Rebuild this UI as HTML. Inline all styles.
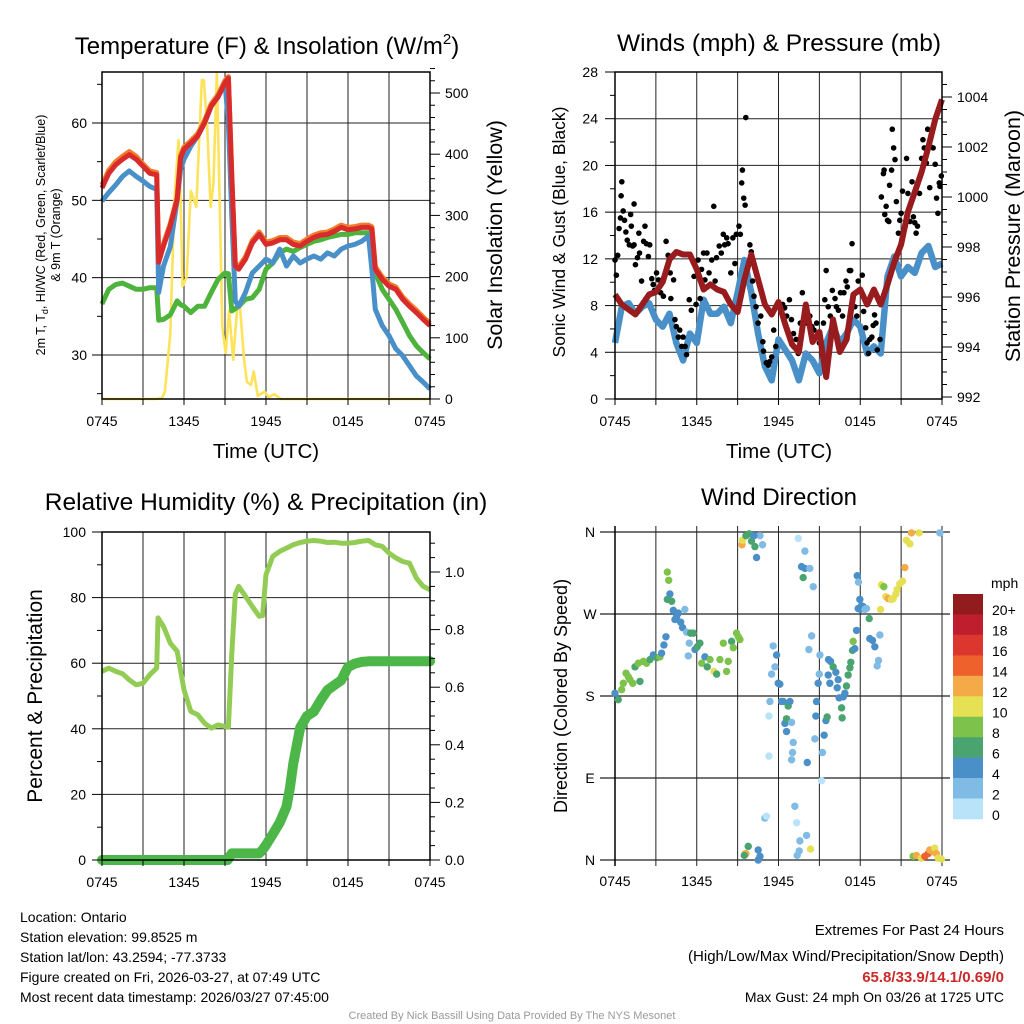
<!DOCTYPE html>
<html><head><meta charset="utf-8">
<style>
html,body{margin:0;padding:0;background:#fff;}
svg{display:block;font-family:"Liberation Sans",Arial,sans-serif;}
</style></head>
<body>
<svg id="c" width="1024" height="1024" viewBox="0 0 1024 1024" xmlns="http://www.w3.org/2000/svg"></svg>
<script>
// ---- data (hours since 0745 UTC) ----
const tHalf = [0,0.5,1,1.5,2,2.5,3,3.5,4,4.5,5,5.5,6,6.5,7,7.5,8,8.5,9,9.5,10,10.5,11,11.5,12,12.5,13,13.5,14,14.5,15,15.5,16,16.5,17,17.5,18,18.5,19,19.5,20,20.5,21,21.5,22,22.5,23,23.5,24];
const tTemp = [0,0.5,1,1.5,2,2.5,3,3.5,4,4.15,4.5,5,5.5,5.75,6,6.5,7,7.5,8,8.5,9,9.25,9.5,9.75,10,10.5,11,11.5,12,12.5,13,13.5,14,14.5,15,15.5,16,16.5,17,17.5,18,18.5,19,19.5,19.75,20,20.5,21,21.5,22,22.5,23,23.5,24];
const tempRed = [51.6,53.5,54.6,55.3,55.9,55.3,54.4,53.5,53.3,42.0,44.1,46.7,50.1,55.5,56.6,57.4,58.3,60,62.2,63.4,65.2,65.8,53,41.5,41.1,42.4,44.5,45.6,44.3,44.5,44.9,44.9,44.3,44.1,44.7,45.2,45.5,45.6,46.0,46.5,46.2,46.3,46.5,46.5,46.3,41.1,39.8,38.9,38.5,37.2,36.3,35.5,34.6,33.8];
const temp9m = [52.0,53.9,55.0,55.7,56.3,55.7,54.7,53.8,53.6,42.3,44.4,47.0,50.4,55.8,56.9,57.7,58.6,60.3,62.5,63.7,65.5,66.0,53.3,41.8,41.4,42.7,44.8,45.9,44.6,44.8,45.2,45.2,44.6,44.4,45.0,45.5,45.8,45.9,46.3,46.8,46.5,46.6,46.8,46.8,46.6,41.4,40.1,39.2,38.8,37.5,36.6,35.8,34.9,34.1];
const tempBlue = [49.9,51,52.0,53.1,53.8,53.1,52.5,51.8,51.4,38.1,41.5,44,50.1,54,55.3,57,58.3,60,62.2,63.4,65.2,60,48,37,36.3,38.1,40.6,41.5,42.4,41.9,43.7,41.5,42.8,41.9,42.4,42.8,42.4,43.2,42.8,43.7,44.1,44.3,44.7,45.4,41,35.9,33.8,32.5,30.8,29.9,28.6,27.3,26.5,25.6];
const dewGreen = [36.6,38.5,39.1,39.3,38.9,38.5,38.5,38.7,38.7,34.5,34.6,35.2,37,36.5,36.3,35.5,36.3,36.3,38.1,39.8,40.6,40.5,35.7,36.0,36.3,37.2,37.4,38.5,41.1,41.9,43.2,43.7,43.4,43.9,44.3,44.7,44.9,45.2,45.4,45.6,45.6,45.8,45.8,45.8,45.8,40.6,38.5,37.2,35.9,34.2,32.5,31.2,30.3,29.5];
const solarT = [0,4,4.4,4.6,5,5.3,5.6,5.7,5.9,6.2,6.5,6.9,7.3,7.45,7.7,7.95,8.15,8.4,8.6,8.8,9.05,9.3,9.6,9.9,10.1,10.4,10.6,10.9,11.1,11.4,11.9,12.2,12.6,13.1,14,24];
const solarV = [0,0,2,12,107,325,423,374,184,200,340,314,521,521,445,314,350,532,336,118,75,145,64,151,151,64,28,23,45,5,12,3,8,0,0,0];
const windBlue = [4.8,7.9,8.2,7.3,7.9,8.2,6.8,6.2,7.3,4.8,3.3,5.6,4.8,8.5,7.3,7.3,7.9,6.5,9.1,11.9,9.1,5.6,2.8,1.6,5.1,4.2,3.3,1.6,3.9,3.3,2.2,4.8,6.2,4.8,5.6,6.8,6.2,3.9,4.5,3.9,10.5,12.2,10.5,11.3,10.8,12.5,13.1,11.3,11.6];
const pressure = [996.1,995.7,995.5,995.3,995.7,996.1,996.2,996.6,997.5,997.8,997.7,997.7,997.1,996.3,996.5,996.3,996.2,995.7,995.4,996.7,997.7,996.7,995.7,995.3,995.8,994.9,994.1,993.8,995.7,994.2,994.6,992.8,995.1,993.8,994.3,996.1,996.3,995.7,996.3,995.7,996.5,997.4,998.1,999.4,1000.2,1001,1002,1003.1,1003.9];
const gustT = [0,0.1,0.2,0.3,0.4,0.45,0.5,0.6,0.7,0.8,0.9,1.05,1.15,1.2,1.3,1.4,1.4,1.5,1.65,1.75,1.8,1.95,2.1,2.2,2.3,2.45,2.55,2.7,2.8,2.9,3.05,3.2,3.35,3.55,3.75,3.9,4.05,4.1,4.3,4.4,4.5,4.65,4.75,4.9,5,5.15,5.25,5.45,5.6,5.8,5.95,6.1,6.25,6.35,6.5,6.6,6.75,6.9,7.1,7.25,7.35,7.45,7.65,7.8,7.95,8.05,8.2,8.3,8.5,8.65,8.8,8.9,9.1,9.2,9.3,9.35,9.45,9.55,9.6,9.9,10,10.1,10.2,10.35,10.5,10.7,10.85,10.9,11.1,11.25,11.35,11.5,11.65,11.8,12,12.3,12.45,12.6,12.8,12.95,13.1,13.3,13.45,13.6,13.75,13.95,14.1,14.3,14.45,14.6,14.8,15,15.3,15.4,15.5,15.65,15.8,15.95,16.15,16.25,16.4,16.55,16.7,16.8,16.95,17.05,17.2,17.3,17.4,17.6,17.75,17.85,18,18.15,18.25,18.4,18.5,18.6,18.7,18.85,18.95,19.05,19.15,19.25,19.45,19.55,19.7,19.75,19.8,19.9,20,20.1,20.15,20.3,20.35,20.45,20.55,20.65,20.8,20.9,21,21.1,21.3,21.4,21.5,21.65,21.8,21.9,22,22.1,22.2,22.35,22.5,22.6,22.7,22.85,22.95,23.1,23.15,23.35,23.5,23.6,23.7,23.8,23.85,23.95];
const gustV = [11.9,10.6,12.3,14.6,15.5,17.4,18.6,16.1,15.3,14.3,13.6,13.2,15.8,14.8,13.1,16.7,13.2,11.5,12.1,14.2,12.5,10.1,13.5,14.8,13.3,12.2,13.2,10.3,9.8,9.3,10.8,10.2,9.1,8.8,13.5,12.3,10.8,8.6,10.2,6.8,6.2,5.3,5.9,4.5,5.3,4.5,3.8,8.5,7.6,10.5,8.1,11.9,8.6,11.1,12.5,10.2,12.5,10.8,11.9,16.5,10.1,12.1,13.1,12.5,14.1,13.2,13.8,13.3,10.8,13.8,11.6,14.1,14.8,14.1,18.5,19.6,17.2,16.6,24.1,13.2,12.6,10.1,8.8,7.9,6.5,7.1,4.9,4.1,3.1,2.9,3.2,3.6,5.9,4.5,7.9,8.1,7.8,7.1,8.5,6.8,5.6,5.1,3.9,6.5,9.1,7.3,6.5,7.1,6.2,5.9,6.5,4.8,6.5,8.5,11,7.9,7.1,9.3,8.6,7.9,7.6,9.1,7.1,9.1,10.1,9.6,11,11,13.3,7.9,7.1,10.1,9.3,10.6,7.5,6.1,4.8,3.9,5.1,5.3,6.3,7.2,6.5,4.2,5.1,17.3,19.3,19.6,15.8,16.5,15.3,15.2,18.3,19.6,23.1,21.5,20.5,16.9,14.2,15.3,15.9,17.8,14.8,20.6,17.6,15.2,18.6,15.6,15.1,14.2,14.8,17.6,20.6,22.2,21.5,20.2,23.1,18.1,21.6,21.5,20.1,17.2,15.9,18.5,18.2,19.1];
const tRh = [0,0.5,1,1.5,2,2.5,3,3.5,4,4.1,4.5,5,5.5,6,6.5,7,7.5,8,8.5,9,9.25,9.5,9.75,10,10.5,11,11.5,11.75,12,12.5,13,13.5,14,14.5,15,15.5,16,16.5,17,17.5,18,18.5,19,19.5,20,20.5,21,21.5,22,22.5,23,23.5,24];
const rh = [57.5,58.5,57.5,56.8,54.9,53.4,53.9,56.5,58.5,73.8,71.2,66.1,63.6,51.9,45.3,44.3,41.7,40.2,41.2,40.7,40.5,63,81,83.4,80.4,77.3,74.3,74.5,87,92.6,94.1,95.1,96.1,96.8,97.2,97.4,97.2,96.8,96.9,96.6,96.6,96.8,97.2,97.4,96.1,95.6,93.6,92.1,91,90.5,86,83.4,82.4];
const precipT = [0,9.2,9.5,11.5,11.75,12,12.5,13,13.5,13.75,14,14.5,15,15.5,16,16.5,17,17.5,18,18.5,19,19.5,24];
const precipV = [0,0,0.023,0.023,0.035,0.052,0.09,0.13,0.185,0.25,0.335,0.46,0.5,0.515,0.555,0.59,0.607,0.624,0.67,0.682,0.688,0.69,0.69];
const dirT = [0,0.24,0.49,0.61,0.81,0.98,1.1,1.3,1.47,1.71,1.83,2.08,2.32,2.57,2.81,3.06,3.3,3.42,3.59,3.74,3.84,3.94,3.84,4.03,4.16,4.28,4.4,4.52,4.65,4.82,4.96,5.13,5.26,5.45,5.38,5.55,5.75,5.87,6.04,6.23,6.36,6.6,6.77,6.97,7.26,7.46,7.7,7.95,8.19,8.31,8.56,8.68,8.92,9.05,9.17,9.32,9.36,9.61,9.85,10.02,10.27,10.39,10.64,10.83,10.2,9.54,9.78,9.61,9.49,10.51,10.64,10.51,11.0,11.12,11.3,11.37,11.3,11.49,11.61,11.74,11.86,11.98,12.1,12.22,12.35,12.47,12.59,12.71,12.59,12.84,12.96,13.08,13.03,12.96,13.45,13.94,13.69,13.94,14.3,13.81,14.55,14.43,14.23,14.11,14.67,14.74,14.79,14.91,14.99,15.04,15.16,15.23,15.35,15.48,15.57,15.67,15.82,15.65,15.77,16.01,16.21,16.38,16.31,16.45,16.63,16.67,16.75,16.87,16.99,17.11,17.24,17.31,17.43,17.48,17.6,17.73,17.85,17.97,18.02,18.09,18.22,18.34,18.46,18.66,17.78,17.87,18.7,18.9,19.07,19.24,19.34,19.44,19.49,19.56,19.73,19.88,20.05,20.29,20.42,20.61,20.71,20.9,21.1,21.27,21.39,21.64,21.76,22.32,23.84,13.2,13.33,13.57,13.52,13.37,14.06,14.35,21.88,22.13,22.49,22.74,22.98,23.1,23.35,23.47,23.59,23.72,23.96];
const dirDeg = [183,176,187,194,205,201,198,194,212,216,196,218,216,220,225,222,223,227,236,245,316,307,286,292,284,274,264,267,271,261,255,275,250,238,224,249,249,231,234,238,216,223,212,220,207,204,220,238,207,218,240,233,249,245,242,346,351,356,358,350,344,332,356,346,356,7,15,7,5,11,4,0,46,48,114,174,158,204,235,212,225,194,193,174,174,150,141,169,155,174,151,129,118,110,353,339,322,320,320,310,300,246,231,107,133,158,174,194,204,225,87,118,137,153,157,220,218,203,194,212,206,198,189,178,167,156,179,183,191,203,211,217,230,240,232,252,276,286,275,279,278,275,276,265,312,305,243,241,234,213,219,247,275,302,300,289,287,286,287,292,297,303,306,321,351,347,359,359,359,59,41,21,10,5,27,12,4,5,2,4,7,11,9,13,7,2,1];
const dirSpd = [5,7,9,9,9,9,9,9,7,9,7,9,9,7,5,7,9,5,5,5,9,9,7,5,7,5,5,5,5,5,5,3,3,3,3,7,7,5,7,7,9,5,7,9,11,7,9,9,9,9,7,9,9,9,9,13,11,7,7,7,7,5,3,3,5,11,7,13,7,5,5,5,3,1,1,3,1,3,3,3,5,5,5,5,5,5,5,7,7,5,3,3,3,3,1,3,5,5,3,7,3,3,3,5,3,5,5,5,3,3,1,3,5,5,7,5,5,5,5,7,5,5,5,5,7,7,5,5,7,7,7,7,7,9,5,5,5,5,5,5,5,3,3,7,5,3,5,5,5,3,3,3,11,11,9,11,13,11,11,11,11,11,11,13,11,11,13,11,3,3,1,3,3,3,3,11,9,13,11,15,15,13,13,11,13,11,11];
const speedBins = ["0","2","4","6","8","10","12","14","16","18","20+"];
const binColors = ["#b8e3f8","#80bbe5","#4a8fc7","#4aa46f","#7dc24a","#e6e055","#f5aa48","#ee602c","#dc362e","#be1e2d","#921b1e"];

const tickHours = [0,6,12,18,24];
const tickNames = ["0745","1345","1945","0145","0745"];

const svg = document.getElementById('c');
const NS = "http://www.w3.org/2000/svg";
function mk(tag, attrs, parent){ const e=document.createElementNS(NS,tag); for(const k in attrs) e.setAttribute(k,attrs[k]); (parent||svg).appendChild(e); return e; }
function txt(x,y,s,size,anchor,parent,extra){ const e=mk('text',Object.assign({x:x,y:y,'font-size':size,'text-anchor':anchor||'middle',fill:'#000'},extra||{}),parent); e.textContent=s; return e; }
function lin(a,b,c,d){ return v=>c+(v-a)*(d-c)/(b-a); }
function path(xs,ys,fx,fy){ let d=''; for(let i=0;i<xs.length;i++){ d+=(i?'L':'M')+fx(xs[i]).toFixed(1)+','+fy(ys[i]).toFixed(1);} return d; }

function frame(g,x0,x1,y0,y1,fx,hLines){
  mk('rect',{x:x0,y:y0,width:x1-x0,height:y1-y0,fill:'#fff'},g);
  for(let h=3;h<24;h+=3){ const gl=mk('line',{x1:fx(h),x2:fx(h),y1:y0,y2:y1,stroke:'#222','stroke-width':1},g);
      }
  hLines.forEach(y=>{ mk('line',{x1:x0,x2:x1,y1:y,y2:y,stroke:'#222','stroke-width':1},g); });
}
function border(g,x0,x1,y0,y1,fx){
  mk('rect',{x:x0,y:y0,width:x1-x0,height:y1-y0,fill:'none',stroke:'#000','stroke-width':1.5},g);
  for(let h=0;h<=24;h+=3) mk('line',{x1:fx(h),x2:fx(h),y1:y1,y2:y1+6,stroke:'#000','stroke-width':1},g);
  tickHours.forEach((h,i)=>{ const t=txt(fx(h),y1+27,tickNames[i],14,'middle',g);   });
}
function yAxis(g,x,fy,lo,hi,major,minor,side,fmt,labelX){
  const dir=side==='left'?-1:1;
  for(let v=lo; v<=hi+1e-9; v+=minor){ const isMaj=Math.abs(v/major-Math.round(v/major))<1e-6;
    mk('line',{x1:x,x2:x+dir*(isMaj?10:5),y1:fy(v),y2:fy(v),stroke:'#000','stroke-width':1},g);
    if(isMaj && fmt){ const t=txt(labelX,fy(v)+5,fmt(v),14,side==='left'?'end':'start',g);   } }
}

// ===== Panel 1: Temperature =====
(function(){
  const g=mk('g',{});  
  const x0=102,x1=430,y0=72,y1=399;
  const fx=lin(0,24,x0,x1), fy=lin(30,60,355,123), fs=lin(0,500,399,93);
  frame(g,x0,x1,y0,y1,fx,[30,40,50,60].map(fy));
  const yl=mk('path',{d:path(solarT,solarV,fx,fs),fill:'none',stroke:'#fde35a','stroke-width':2.6,'stroke-linejoin':'round'},g);
   
  const gr=mk('path',{d:path(tTemp,dewGreen,fx,fy),fill:'none',stroke:'#4db33d','stroke-width':5,'stroke-linejoin':'round'},g);
   
  const bl=mk('path',{d:path(tTemp,tempBlue,fx,fy),fill:'none',stroke:'#4a90c8','stroke-width':5,'stroke-linejoin':'round'},g);
   
  const or=mk('path',{d:path(tTemp,temp9m,fx,fy),fill:'none',stroke:'#f07d2a','stroke-width':5,'stroke-linejoin':'round'},g);
   
  const rd=mk('path',{d:path(tTemp,tempRed,fx,fy),fill:'none',stroke:'#d92b2b','stroke-width':5,'stroke-linejoin':'round'},g);
   
  border(g,x0,x1,y0,y1,fx);
  yAxis(g,x0,fy,25,65,10,5,'left',v=>v===25||v===65?'':String(v),87);
  yAxis(g,x1,fs,0,540,100,20,'right',v=>String(v),445);
  const t=txt(267,54,'',24,'middle',g); t.innerHTML='Temperature (F) &amp; Insolation (W/m<tspan font-size="15" dy="-10">2</tspan><tspan dy="10">)</tspan>';
   
  const xl=txt(266,458,'Time (UTC)',20.5,'middle',g);  
  const yg=mk('g',{transform:'translate(45,235) rotate(-90)'},g);  
  const a=txt(0,0,'',12.5,'middle',yg); a.innerHTML='2m T, T<tspan font-size="9" dy="3">d</tspan><tspan dy="-3">, HI/WC (Red, Green, Scarlet/Blue)</tspan>';
  txt(0,15,'& 9m T (Orange)',12.5,'middle',yg);
  const r=txt(0,0,'Solar Insolation (Yellow)',21.5,'middle',g,{transform:'translate(502,235) rotate(-90)'});  
})();

// ===== Panel 2: Winds =====
(function(){
  const g=mk('g',{});  
  const x0=615,x1=942,y0=72,y1=399;
  const fx=lin(0,24,x0,x1), fy=lin(0,28,399,72), fp=lin(992,1004,397,97);
  frame(g,x0,x1,y0,y1,fx,[4,8,12,16,20,24].map(fy));
  const bl=mk('path',{d:path(tHalf,windBlue,fx,fy),fill:'none',stroke:'#4a90c8','stroke-width':6.5,'stroke-linejoin':'round'},g);
   
  for(let i=0;i<gustT.length;i++){ const c=mk('circle',{cx:fx(gustT[i]),cy:fy(gustV[i]),r:2.8,fill:'#000'},g);
      }
  const pr=mk('path',{d:path(tHalf,pressure,fx,fp),fill:'none',stroke:'#981b1e','stroke-width':6,'stroke-linejoin':'round'},g);
   
  border(g,x0,x1,y0,y1,fx);
  yAxis(g,x0,fy,0,28,4,2,'left',v=>String(v),598);
  yAxis(g,x1,fp,992,1004.5,2,0.5,'right',v=>String(Math.round(v)),957);
  const t=txt(779,51,'Winds (mph) & Pressure (mb)',24.5,'middle',g);  
  const xl=txt(779,458,'Time (UTC)',20.5,'middle',g);  
  const l=txt(0,0,'Sonic Wind & Gust (Blue, Black)',17.5,'middle',g,{transform:'translate(565,232) rotate(-90)'});  
  const r=txt(0,0,'Station Pressure (Maroon)',21.5,'middle',g,{transform:'translate(1020,236) rotate(-90)'});  
})();

// ===== Panel 3: RH & precip =====
(function(){
  const g=mk('g',{});  
  const x0=102,x1=430,y0=532,y1=860;
  const fx=lin(0,24,x0,x1), fy=lin(0,100,860,532), fp=lin(0,1,860,572);
  frame(g,x0,x1,y0,y1,fx,[20,40,60,80].map(fy));
  const rl=mk('path',{d:path(tRh,rh,fx,fy),fill:'none',stroke:'#93cc55','stroke-width':5,'stroke-linejoin':'round'},g);
   
  const pl=mk('path',{d:path(precipT,precipV,fx,fp),fill:'none',stroke:'#4cb748','stroke-width':10,'stroke-linejoin':'round','stroke-linecap':'round'},g);
   
  border(g,x0,x1,y0,y1,fx);
  yAxis(g,x0,fy,0,100,20,10,'left',v=>String(v),86);
  yAxis(g,x1,fp,0,1.14,0.2,0.05,'right',v=>v.toFixed(1),445);
  const t=txt(266,510,'Relative Humidity (%) & Precipitation (in)',24.5,'middle',g);  
  const l=txt(0,0,'Percent & Precipitation',21,'middle',g,{transform:'translate(42,696) rotate(-90)'});  
})();

// ===== Panel 4: Wind direction =====
(function(){
  const g=mk('g',{});  
  const x0=615,x1=942,y0=532,y1=860;
  const fx=lin(0,24,x0,x1), fy=lin(0,360,860,532);
  mk('rect',{x:x0,y:y0,width:x1-x0,height:y1-y0,fill:'#fff'},g);
  for(let h=3;h<24;h+=3) mk('line',{x1:fx(h),x2:fx(h),y1:y0-6,y2:y1+6,stroke:'#222','stroke-width':1},g);
  const labs=['N','E','S','W','N'];
  [0,90,180,270,360].forEach((d,i)=>{ mk('line',{x1:600,x2:950,y1:fy(d),y2:fy(d),stroke:'#222','stroke-width':1.2},g);
    const t=txt(590,fy(d)+5,labs[i],14,'middle',g);   });
  mk('line',{x1:x0,x2:x0,y1:y0-6,y2:y1+6,stroke:'#000','stroke-width':1.5},g);
  mk('line',{x1:x1,x2:x1,y1:y0-6,y2:y1+6,stroke:'#222','stroke-width':1},g);
  const n=Math.min(dirT.length,dirDeg.length,dirSpd.length);
  for(let i=0;i<n;i++){ const b=Math.min(10,Math.floor(dirSpd[i]/2));
    const c=mk('circle',{cx:fx(dirT[i]),cy:fy(dirDeg[i]),r:3.7,fill:binColors[b]},g);
      }
  tickHours.forEach((h,i)=>{ const t=txt(fx(h),886,tickNames[i],14,'middle',g);   });
  const t=txt(779,505,'Wind Direction',24,'middle',g);  
  const l=txt(0,0,'Direction (Colored By Speed)',18,'middle',g,{transform:'translate(567,696) rotate(-90)'});  
  // colorbar
  const cb=mk('g',{},g);  
  const top=594, h=(819-594)/11;
  for(let i=0;i<11;i++){ const k=10-i; mk('rect',{x:953,y:top+i*h,width:30,height:h+0.3,fill:binColors[k]},cb);
    const lt=txt(992,top+i*h+h/2+11,speedBins[k],14,'start',cb);   }
  txt(991,588,'mph',14,'start',cb);
})();

// ===== footer text =====
const info=['Location: Ontario','Station elevation: 99.8525 m','Station lat/lon: 43.2594; -77.3733','Figure created on Fri, 2026-03-27, at 07:49 UTC','Most recent data timestamp: 2026/03/27 07:45:00'];
info.forEach((s,i)=>{ const t=txt(20,922+i*20,s,14,'start');   });
let e;
e=txt(1004,935,'Extremes For Past 24 Hours',15,'end');  
e=txt(1004,961,'(High/Low/Max Wind/Precipitation/Snow Depth)',15,'end');  
e=txt(1004,982,'65.8/33.9/14.1/0.69/0',15,'end',null,{fill:'#cc2a2a','font-weight':'bold'});  
e=txt(1004,1002,'Max Gust: 24 mph On 03/26 at 1725 UTC',14,'end');  
e=txt(512,1019,'Created By Nick Bassill Using Data Provided By The NYS Mesonet',11,'middle',null,{fill:'#999'});  
</script>
</body></html>
